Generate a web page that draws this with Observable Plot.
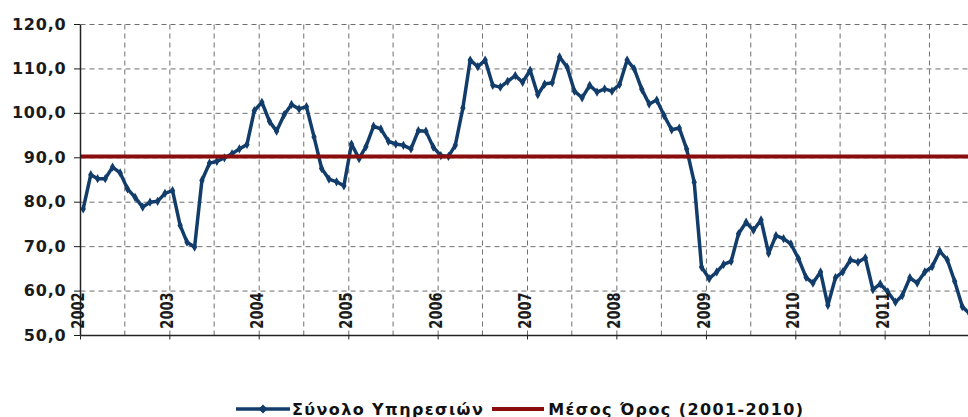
<!DOCTYPE html>
<html>
<head>
<meta charset="utf-8">
<script src="https://cdn.jsdelivr.net/npm/d3@7"></script>
<script src="https://cdn.jsdelivr.net/npm/@observablehq/plot@0.6"></script>
<style>
  html, body { margin: 0; padding: 0; overflow: hidden; }
  body { background: #fff; width: 968px; height: 417px; position: relative; font-family: "DejaVu Sans", Verdana, sans-serif; }
  #chart { position: absolute; left: 0; top: 0; width: 968px; height: 386px; overflow: hidden; }
  #chart > svg { display: block; overflow: hidden; }
  #legend { position: absolute; top: 398px; left: 236px; display: flex; align-items: center; height: 22px; font-weight: bold; font-size: 16px; letter-spacing: 1.4px; color: #111; white-space: nowrap; }
  #legend .item { display: flex; align-items: center; }
  #legend .key { display: block; }
</style>
</head>
<body>
<div id="chart"></div>
<div id="legend"></div>
<script>
// ---- Data ----
const years = [2002, 2003, 2004, 2005, 2006, 2007, 2008, 2009, 2010, 2011];
const v2002 = [78.5, 86.2, 85.3, 85.3, 87.9, 86.6, 83.0, 81.1, 78.9, 80.0, 80.2, 82.0];
const v2003 = [82.6, 74.8, 71.0, 69.9, 84.9, 88.8, 89.2, 90.0, 90.9, 92.0, 93.0, 100.6];
const v2004 = [102.5, 98.2, 96.0, 99.7, 102.0, 101.0, 101.5, 94.7, 87.6, 85.2, 84.6, 83.7];
const v2005 = [93.1, 89.8, 92.5, 97.1, 96.5, 93.7, 93.1, 92.8, 92.0, 96.1, 96.0, 92.4];
const v2006 = [90.5, 90.3, 92.8, 101.2, 112.0, 110.5, 112.0, 106.3, 105.9, 107.2, 108.5, 107.0];
const v2007 = [109.7, 104.2, 106.6, 106.9, 112.7, 110.4, 105.0, 103.5, 106.3, 104.8, 105.5, 105.0];
const v2008 = [106.5, 112.0, 110.0, 105.4, 102.1, 103.0, 99.5, 96.3, 96.7, 92.0, 84.5, 65.4];
const v2009 = [62.8, 64.3, 66.0, 66.7, 72.9, 75.5, 73.7, 76.0, 68.5, 72.5, 71.8, 70.6];
const v2010 = [67.3, 63.1, 61.8, 64.3, 56.8, 63.0, 64.3, 67.0, 66.5, 67.5, 60.3, 61.6];
const v2011 = [59.8, 57.5, 59.0, 63.0, 61.8, 64.3, 65.5, 69.0, 67.0, 62.2, 56.5, 54.9];
const averageValue = 90.3;
const yTicks = [50, 60, 70, 80, 90, 100, 110, 120];
const seriesName = "Σύνολο Υπηρεσιών";
const averageName = "Μέσος Όρος (2001-2010)";

const navy = "#123c6a";
const darkRed = "#8a0c0c";
const gridColor = "#6e6e6e";

const yearly = [v2002, v2003, v2004, v2005, v2006, v2007, v2008, v2009, v2010, v2011];
const data = [];
years.forEach((yr, k) => yearly[k].forEach((v, m) => data.push({ date: new Date(Date.UTC(yr, m, 12)), value: v })));

const start = new Date(Date.UTC(2002, 0, 1));
const end = new Date(Date.UTC(2012, 0, 1));
const yearStarts = years.map(y => new Date(Date.UTC(y, 0, 1)));
const halfYears = d3.utcMonth.every(6).range(start, end).filter(d => +d > +start);
const gridValues = yTicks.filter(d => d > 50);

const plot = Plot.plot({
  width: 968,
  height: 386,
  marginLeft: 80,
  marginRight: 0,
  marginTop: 24,
  marginBottom: 51,
  style: { fontFamily: "DejaVu Sans, Verdana, sans-serif", fontSize: "16px", fontWeight: "bold", letterSpacing: "0.8px", background: "white", color: "#1a1a1a" },
  x: { type: "utc", domain: [start, end], range: [80, 974], axis: null },
  y: { type: "linear", domain: [50, 120], ticks: yTicks, tickSize: 6, tickPadding: 8, tickFormat: d => d.toFixed(1).replace(".", ","), label: null },
  marks: [
    Plot.link(gridValues, { x1: () => start, x2: () => end, y1: d => d, y2: d => d, stroke: gridColor, strokeWidth: 1, strokeDasharray: "5,4" }),
    Plot.link(halfYears, { x1: d => d, x2: d => d, y1: () => 50, y2: () => 120, stroke: gridColor, strokeWidth: 1, strokeDasharray: "5,4" }),
    Plot.lineY(data, { x: "date", y: "value", stroke: navy, strokeWidth: 3.5, strokeLinejoin: "round" }),
    Plot.dot(data, { x: "date", y: "value", symbol: "diamond", r: 2.8, fill: navy }),
    Plot.ruleY([averageValue], { y: d => d, stroke: darkRed, strokeWidth: 4 }),
    Plot.link([start], { x1: d => d, x2: d => d, y1: () => 50, y2: () => 120, stroke: "#222", strokeWidth: 1.5 }),
    Plot.link([50], { x1: () => start, x2: () => end, y1: d => d, y2: d => d, stroke: "#222", strokeWidth: 1.5 }),
    Plot.link(yearStarts, { x1: d => d, x2: d => d, y1: () => 50, y2: () => 49.1, stroke: "#222", strokeWidth: 1 }),
    Plot.text(yearStarts, { x: d => d, frameAnchor: "bottom", text: d => String(d.getUTCFullYear()), rotate: -90, textAnchor: "end", dy: -43, dx: 3.5, fontSize: 13, fontWeight: "bold", fill: "#1a1a1a" })
  ]
});
document.getElementById("chart").appendChild(plot);

// widen the rotated year labels (they are drawn thick in the reference)
plot.querySelectorAll("text").forEach(t => {
  const tr = t.getAttribute("transform") || "";
  if (tr.includes("rotate(-90")) {
    t.setAttribute("transform", tr + " scale(1,1.4)");
    t.style.letterSpacing = "0px";
  }
});

// ---- Legend ----
const legend = document.getElementById("legend");
legend.innerHTML = `
  <div class="item">
    <svg class="key" width="54" height="20"><line x1="0" y1="10" x2="54" y2="10" stroke="${navy}" stroke-width="3.5"/><path d="M27,5.5 L31.5,10 L27,14.5 L22.5,10 Z" fill="${navy}"/></svg>
    <span style="margin-left:2px">${seriesName}</span>
  </div>
  <div class="item" style="margin-left:8px">
    <svg class="key" width="52" height="20"><line x1="0" y1="10" x2="52" y2="10" stroke="${darkRed}" stroke-width="4"/></svg>
    <span style="margin-left:4px">${averageName}</span>
  </div>`;
</script>
</body>
</html>
